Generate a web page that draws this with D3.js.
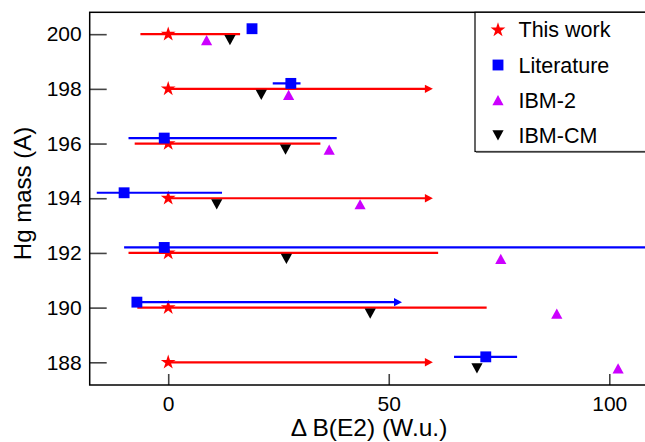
<!DOCTYPE html>
<html>
<head>
<meta charset="utf-8">
<script src="https://cdn.jsdelivr.net/npm/d3@7"></script>
<style>
  html, body { margin: 0; padding: 0; background: #fff; }
  svg { display: block; font-family: "Liberation Sans", Arial, Helvetica, sans-serif; }
</style>
</head>
<body>
<svg id="chart" width="645" height="442"></svg>
<script>
// ---- data ----
const masses      = [188, 190, 192, 194, 196, 198, 200];
// This work
const thisWork    = [0, 0, 0, 0, 0, 0, 0];
const thisWorkLo  = [0, -7.0, -9.0, 0, -7.6, 0, -6.3];
const thisWorkHi  = [60, 72.2, 61.2, 60, 34.5, 60, 16.3];
const thisWorkArrow = [true, false, false, true, false, true, false];
// Literature
const literature  = [72.0, -7.1, -0.9, -10.0, -0.9, 27.8, 19.0];
const litLo       = [64.8, -7.1, -10.0, -16.2, -9.0, 23.7, 19.0];
const litHi       = [79.1, 53, 130, 12.2, 38.2, 30.0, 19.0];
const litArrow    = [false, true, false, false, false, false, false];
// Theory
const ibm2        = [102, 88.1, 75.4, 43.5, 36.5, 27.3, 8.7];
const ibmcm       = [70.0, 45.8, 26.8, 11.0, 26.6, 21.1, 14.0];

const xTicks = [0, 50, 100];
const yTicks = [188, 190, 192, 194, 196, 198, 200];
const legendLabels = ["This work", "Literature", "IBM-2", "IBM-CM"];

// ---- layout ----
const L = 89.7, R = 660, T = 12.3, B = 385;
const x = d3.scaleLinear().domain([-17.8, 111.5]).range([L, R]);
const y = d3.scaleLinear().domain([187.17, 200.8]).range([B, T]);

const offLit = 0.2, offIbm2 = -0.23, offCm = -0.21;
const RED = "#ff0000", BLUE = "#0000ff", MAG = "#cc00ff", BLK = "#000000";

const svg = d3.select("#chart");

svg.append("defs").append("clipPath").attr("id", "plotclip")
  .append("rect").attr("x", L).attr("y", T).attr("width", R - L).attr("height", B - T);

// axes
const yAxis = d3.axisLeft(y).tickValues(yTicks).tickSizeInner(-17).tickSizeOuter(0).tickPadding(8)
  .tickFormat(d3.format("d"));
const xAxis = d3.axisBottom(x).tickValues(xTicks).tickSizeInner(-11).tickSizeOuter(0).tickPadding(11)
  .tickFormat(d3.format("d"));

const gy = svg.append("g").attr("transform", `translate(${L},0)`).call(yAxis);
const gx = svg.append("g").attr("transform", `translate(0,${B})`).call(xAxis);
[gx, gy].forEach(g => {
  g.select(".domain").remove();
  g.selectAll(".tick line").attr("stroke", "#444").attr("stroke-width", 1.6);
  g.selectAll(".tick text").attr("font-size", 21).attr("fill", "#000")
    .attr("font-family", "'Liberation Sans', Arial, sans-serif");
});

// frame
svg.append("rect").attr("x", L).attr("y", T).attr("width", R - L).attr("height", B - T)
  .attr("fill", "none").attr("stroke", "#000").attr("stroke-width", 1.5);

// axis titles
svg.append("text")
  .attr("transform", `translate(31,193.5) rotate(-90)`)
  .attr("text-anchor", "middle").attr("font-size", 24).attr("fill", "#000")
  .text("Hg mass (A)");
svg.append("text")
  .attr("x", 369).attr("y", 436).attr("text-anchor", "middle")
  .attr("font-size", 24.5).attr("fill", "#000")
  .text("\u0394 B(E2) (W.u.)");

// data layer
const plot = svg.append("g");
const lines = plot.append("g").attr("clip-path", "url(#plotclip)");

function errLines(g, lo, hi, arrows, off, color) {
  masses.forEach((m, i) => {
    if (lo[i] === hi[i]) return;
    const yy = y(m + off);
    const x0 = x(lo[i]), x1 = x(hi[i]);
    const endX = arrows[i] ? x1 - 6 : x1;
    g.append("line").attr("x1", x0).attr("x2", endX).attr("y1", yy).attr("y2", yy)
      .attr("stroke", color).attr("stroke-width", 2.2);
    if (arrows[i]) {
      g.append("path")
        .attr("d", `M${x1},${yy} L${x1 - 8},${yy - 4.2} L${x1 - 8},${yy + 4.2} Z`)
        .attr("fill", color);
    }
  });
}

errLines(lines, thisWorkLo, thisWorkHi, thisWorkArrow, 0, RED);

const starSym = d3.symbol().type(d3.symbolStar).size(68);
const squareSym = d3.symbol().type(d3.symbolSquare).size(118);
const upTri = "M0,-5.4 L5.6,4.8 L-5.6,4.8 Z";
const downTri = "M-5.6,-4.8 L5.6,-4.8 L0,5.4 Z";

plot.append("g").selectAll("path").data(masses).join("path")
  .attr("d", starSym())
  .attr("transform", (d, i) => `translate(${x(thisWork[i])},${y(d)})`)
  .attr("fill", RED);

const lines2 = plot.append("g").attr("clip-path", "url(#plotclip)");
errLines(lines2, litLo, litHi, litArrow, offLit, BLUE);

plot.append("g").selectAll("path").data(masses).join("path")
  .attr("d", squareSym())
  .attr("transform", (d, i) => `translate(${x(literature[i])},${y(d + offLit)})`)
  .attr("fill", BLUE);

plot.append("g").selectAll("path").data(masses).join("path")
  .attr("d", upTri)
  .attr("transform", (d, i) => `translate(${x(ibm2[i])},${y(d + offIbm2)})`)
  .attr("fill", MAG);

plot.append("g").selectAll("path").data(masses).join("path")
  .attr("d", downTri)
  .attr("transform", (d, i) => `translate(${x(ibmcm[i])},${y(d + offCm)})`)
  .attr("fill", BLK);

// legend
const lg = svg.append("g");
lg.append("rect").attr("x", 475).attr("y", T).attr("width", 200).attr("height", 151.5 - T)
  .attr("fill", "#fff").attr("stroke", "#000").attr("stroke-width", 1.2);
lg.append("line").attr("x1", 476).attr("x2", 660).attr("y1", 152.3).attr("y2", 152.3)
  .attr("stroke", "#777").attr("stroke-width", 1.6);

const legSyms = [
  { d: starSym(), color: RED },
  { d: squareSym(), color: BLUE },
  { d: upTri, color: MAG },
  { d: downTri, color: BLK }
];
const legSymY = [30, 65, 100.5, 135];
const legTextY = [37.3, 72.7, 108.3, 142.9];
legendLabels.forEach((lab, i) => {
  lg.append("path").attr("d", legSyms[i].d)
    .attr("transform", `translate(498,${legSymY[i]})`).attr("fill", legSyms[i].color);
  lg.append("text").attr("x", 518.5).attr("y", legTextY[i])
    .attr("font-size", 21.5).attr("fill", "#000").text(lab);
});
</script>
</body>
</html>
